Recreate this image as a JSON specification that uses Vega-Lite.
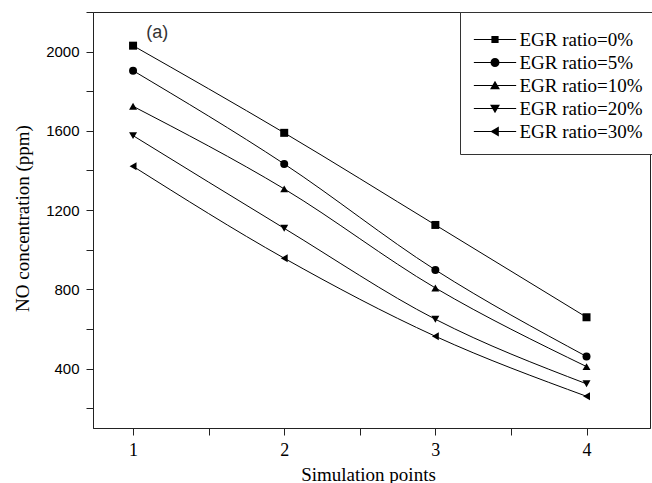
{
  "$schema": "https://vega.github.io/schema/vega-lite/v6.json",
  "width": 557,
  "height": 416,
  "autosize": "none",
  "padding": {"left": 93, "top": 12, "right": 2, "bottom": 55},
  "background": "white",
  "config": {
    "view": {"stroke": "#222", "strokeWidth": 1},
    "axis": {
      "grid": false,
      "domainColor": "#222",
      "tickColor": "#222",
      "tickSize": 7,
      "labelColor": "black",
      "titleColor": "black",
      "labelFlush": false,
      "labelOverlap": false,
      "titleFontWeight": "normal"
    }
  },
  "datasets": {
    "no": [
      {"point": 1, "ppm": 2030, "series": "EGR ratio=0%"},
      {"point": 2, "ppm": 1590, "series": "EGR ratio=0%"},
      {"point": 3, "ppm": 1125, "series": "EGR ratio=0%"},
      {"point": 4, "ppm": 659, "series": "EGR ratio=0%"},
      {"point": 1, "ppm": 1904, "series": "EGR ratio=5%"},
      {"point": 2, "ppm": 1433, "series": "EGR ratio=5%"},
      {"point": 3, "ppm": 898, "series": "EGR ratio=5%"},
      {"point": 4, "ppm": 461, "series": "EGR ratio=5%"},
      {"point": 1, "ppm": 1724, "series": "EGR ratio=10%"},
      {"point": 2, "ppm": 1307, "series": "EGR ratio=10%"},
      {"point": 3, "ppm": 807, "series": "EGR ratio=10%"},
      {"point": 4, "ppm": 410, "series": "EGR ratio=10%"},
      {"point": 1, "ppm": 1576, "series": "EGR ratio=20%"},
      {"point": 2, "ppm": 1108, "series": "EGR ratio=20%"},
      {"point": 3, "ppm": 649, "series": "EGR ratio=20%"},
      {"point": 4, "ppm": 323, "series": "EGR ratio=20%"},
      {"point": 1, "ppm": 1421, "series": "EGR ratio=30%"},
      {"point": 2, "ppm": 957, "series": "EGR ratio=30%"},
      {"point": 3, "ppm": 563, "series": "EGR ratio=30%"},
      {"point": 4, "ppm": 260, "series": "EGR ratio=30%"}
    ],
    "tag": [{"point": 1.16, "ppm": 2096, "label": "(a)"}]
  },
  "data": {"name": "no"},
  "encoding": {
    "x": {
      "field": "point",
      "type": "quantitative",
      "scale": {"domain": [0.735, 4.42], "nice": false, "zero": false},
      "axis": {
        "title": "Simulation points",
        "values": [1, 1.5, 2, 2.5, 3, 3.5, 4],
        "labelExpr": "datum.value % 1 === 0 ? format(datum.value, 'd') : ''",
        "labelFont": "Liberation Serif",
        "labelFontSize": 18,
        "labelPadding": 6,
        "titleFont": "Liberation Serif",
        "titleFontSize": 19,
        "titleX": 275,
        "titleY": 52,
        "titleBaseline": "alphabetic"
      }
    },
    "y": {
      "field": "ppm",
      "type": "quantitative",
      "scale": {"domain": [100, 2200], "nice": false, "zero": false},
      "axis": {
        "title": "NO concentration (ppm)",
        "values": [200, 400, 600, 800, 1000, 1200, 1400, 1600, 1800, 2000, 2200],
        "labelExpr": "datum.value % 400 === 0 ? format(datum.value, 'd') : ''",
        "labelFont": "Liberation Sans",
        "labelFontSize": 15,
        "labelPadding": 7,
        "titleFont": "Liberation Serif",
        "titleFontSize": 19,
        "titleAngle": -90,
        "titleX": -71,
        "titleY": 206,
        "titleAlign": "center",
        "titleBaseline": "middle"
      }
    }
  },
  "layer": [
    {
      "mark": {"type": "line", "color": "black", "strokeWidth": 1, "interpolate": "monotone"},
      "encoding": {"detail": {"field": "series"}}
    },
    {
      "mark": {"type": "point", "filled": true, "color": "black", "opacity": 1, "size": 64},
      "encoding": {
        "shape": {
          "field": "series",
          "type": "nominal",
          "scale": {
            "domain": ["EGR ratio=0%", "EGR ratio=5%", "EGR ratio=10%", "EGR ratio=20%", "EGR ratio=30%"],
            "range": ["square", "circle", "triangle-up", "triangle-down", "triangle-left"]
          },
          "legend": null
        }
      }
    },
    {
      "mark": {"type": "point", "filled": true, "color": "black", "opacity": 0, "size": 64},
      "encoding": {
        "shape": {
          "field": "series",
          "type": "nominal",
          "scale": {
            "domain": ["EGR ratio=0%", "EGR ratio=5%", "EGR ratio=10%", "EGR ratio=20%", "EGR ratio=30%"],
            "range": [
              "M-4.7,-0.11H4.7V0.11H-4.7ZM-0.8,-0.8H0.8V0.8H-0.8Z",
              "M-4.7,-0.11H4.7V0.11H-4.7ZM-1,0A1,1 0 1,1 1,0A1,1 0 1,1 -1,0Z",
              "M-4.7,-0.11H4.7V0.11H-4.7ZM0,-1.05L1.1,0.85H-1.1Z",
              "M-4.7,-0.11H4.7V0.11H-4.7ZM0,1.05L-1.1,-0.85H1.1Z",
              "M-4.7,-0.11H4.7V0.11H-4.7ZM-1.05,0L0.85,-1.1V1.1Z"
            ]
          },
          "legend": {
            "title": " ",
            "titleFontSize": 6,
            "titlePadding": 0,
            "orient": "none",
            "legendX": 367,
            "legendY": 0,
            "padding": 12,
            "strokeColor": "#333",
            "fillColor": "white",
            "cornerRadius": 0,
            "symbolSize": 81,
            "symbolOffset": 13.5,
            "labelOffset": 15,
            "labelFont": "Liberation Serif",
            "labelFontSize": 19,
            "labelColor": "black",
            "rowPadding": 3,
            "symbolFillColor": "black",
            "symbolOpacity": 1
          }
        }
      }
    },
    {
      "data": {"name": "tag"},
      "mark": {"type": "text", "font": "Liberation Sans", "fontSize": 18, "color": "#333", "align": "center", "baseline": "middle"},
      "encoding": {"text": {"field": "label"}}
    }
  ],
  "resolve": {"scale": {"shape": "independent"}, "legend": {"shape": "independent"}}
}
